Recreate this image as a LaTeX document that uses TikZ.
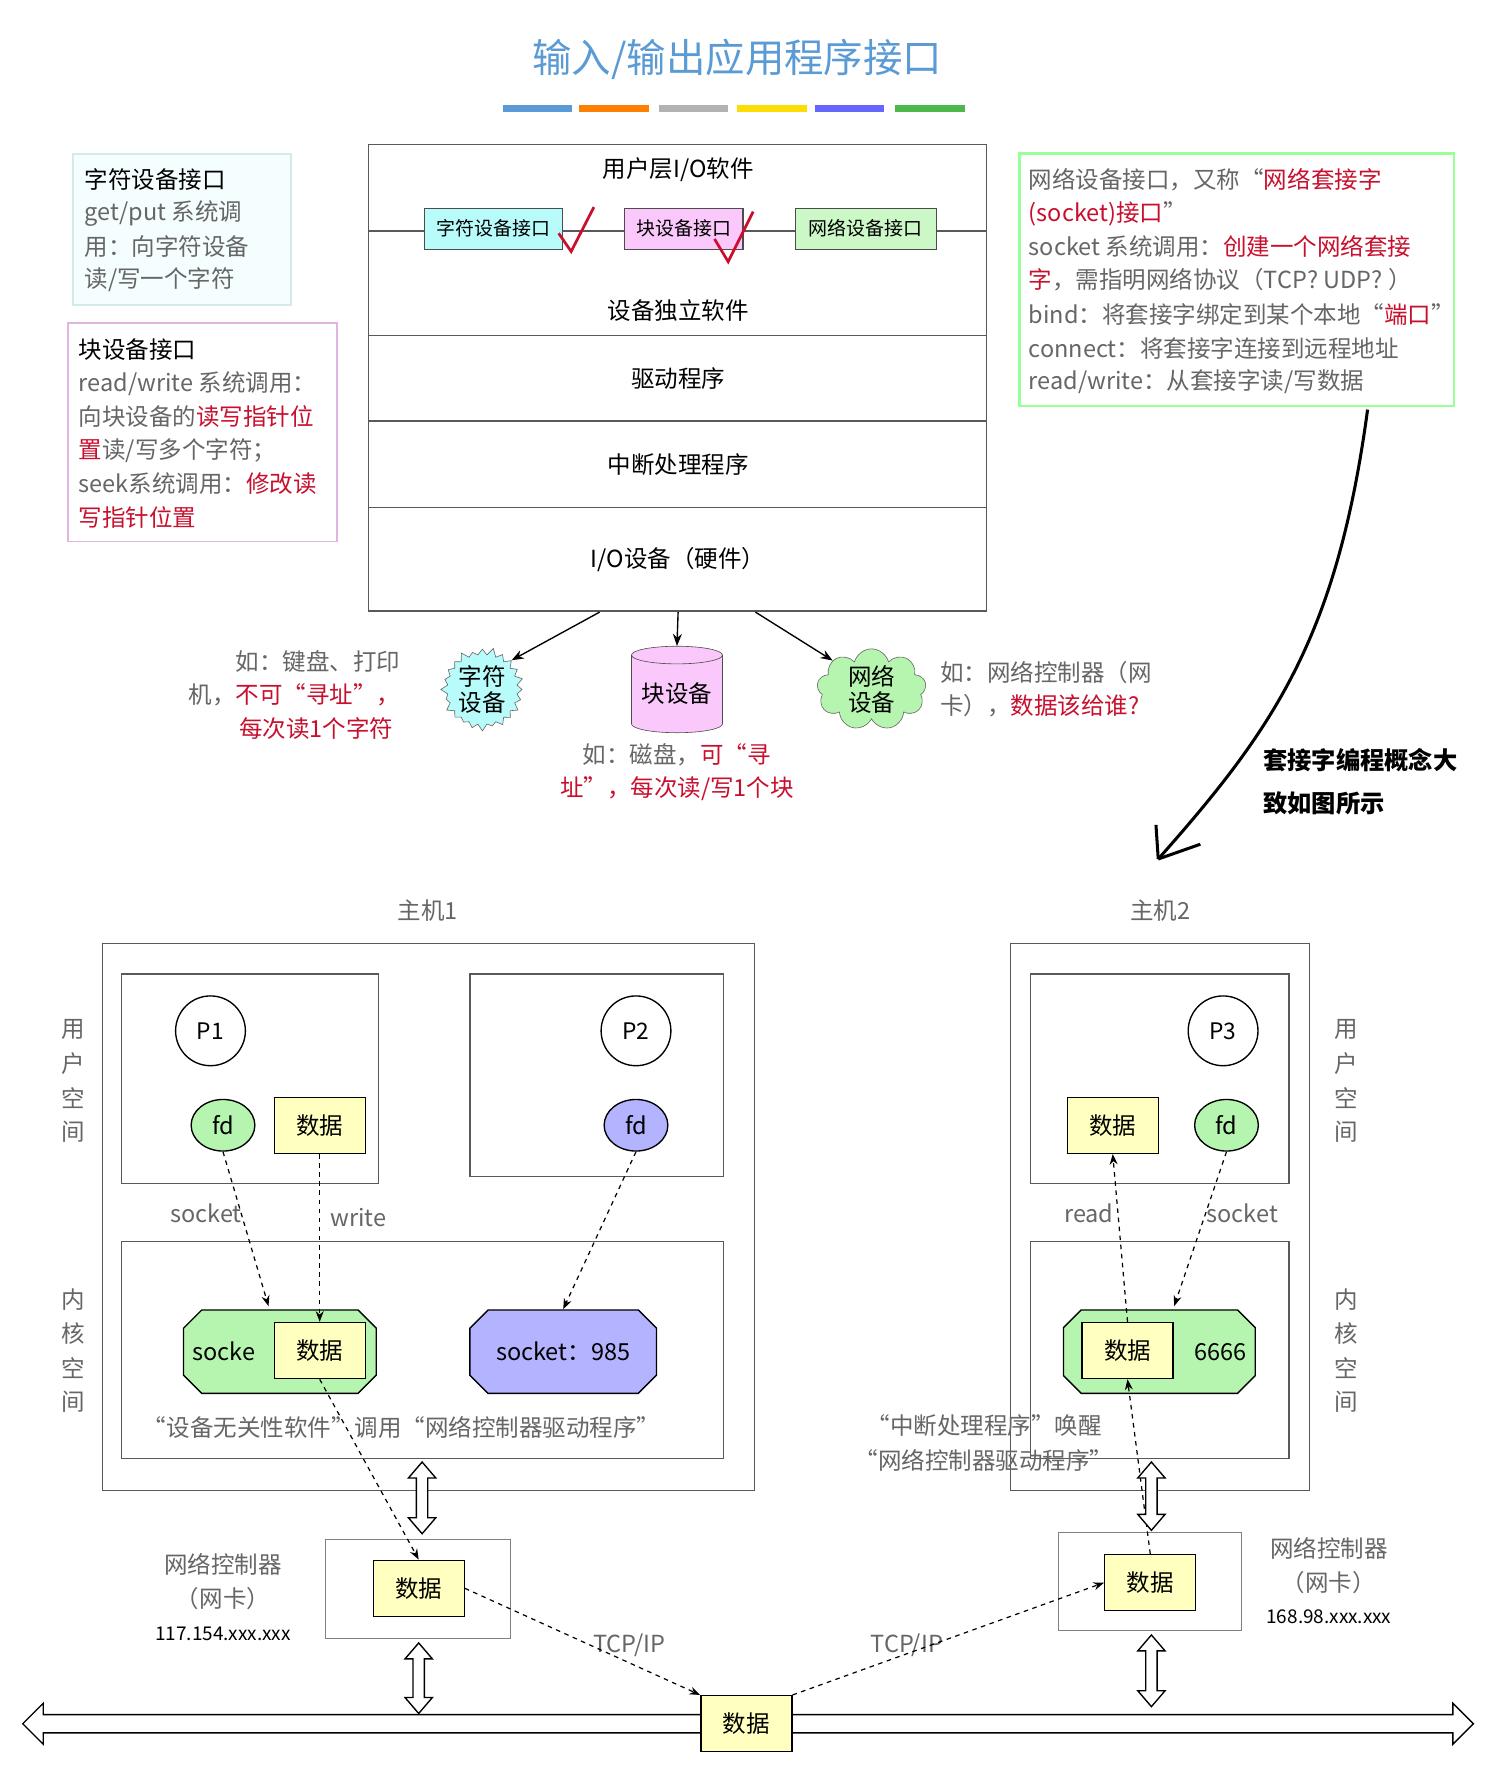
\documentclass[tikz,border=0pt]{standalone}
\usepackage{fontspec}
\setmainfont{Noto Sans CJK SC}
\usetikzlibrary{shapes.geometric,shapes.symbols,shapes.misc,arrows.meta}
\definecolor{gr}{HTML}{666666}
\definecolor{rd}{HTML}{C8102E}
\definecolor{ttl}{HTML}{5B9BD5}
\definecolor{yel}{HTML}{FFFFC0}
\definecolor{grn}{HTML}{B6F5B0}
\definecolor{pur}{HTML}{B3B3FF}
\definecolor{cy}{HTML}{B8FBFB}
\definecolor{pk}{HTML}{FBC8FB}
\tikzset{
 t/.style={font=\fontsize{15.5}{17}\selectfont,inner sep=0pt},
 tl/.style={t,anchor=west},
 box/.style={draw=black!65,line width=0.8pt},
 dat/.style={draw=black,line width=0.9pt,fill=yel,minimum width=60pt,minimum height=37pt,font=\fontsize{15.5}{17}\selectfont,inner sep=0pt},
 fd/.style={ellipse,draw=black,line width=0.9pt,minimum width=42pt,minimum height=34pt,font=\fontsize{15.5}{17}\selectfont,inner sep=0pt},
 pc/.style={circle,draw=black,line width=0.9pt,minimum size=46pt,font=\fontsize{15}{17}\selectfont,inner sep=0pt},
 sock/.style={chamfered rectangle,chamfered rectangle xsep=6pt,chamfered rectangle ysep=6pt,draw=black,line width=0.9pt,minimum height=55pt,font=\fontsize{15.5}{17}\selectfont,inner sep=0pt},
 da/.style={dashed,line width=0.8pt,-{Stealth[length=7pt]}},
 sb/.style={draw=black!70,line width=0.8pt,font=\fontsize{12.5}{14}\selectfont,minimum height=27pt,inner sep=2pt},
 ar/.style={line width=0.9pt,-{Stealth[length=8pt]}},
}
\newcommand\vdar[3]{\draw[line width=0.9pt,fill=white] (#1-5,#2+14)--(#1-12,#2+14)--(#1,#2)--(#1+12,#2+14)--(#1+5,#2+14)--(#1+5,#3-14)--(#1+12,#3-14)--(#1,#3)--(#1-12,#3-14)--(#1-5,#3-14)--cycle;}
\begin{document}
\begin{tikzpicture}[x=0.75pt,y=-0.75pt]
\useasboundingbox[fill=white] (0,0) rectangle (1320,1568);
% title
\node[font=\fontsize{26}{28}\selectfont,text=ttl] (title) at (648,52) {输入/输出应用程序接口};
\foreach \a/\c in {442/ttl,509/orange,579/gray!60,648/yellow!80!orange,716/blue!60,787/green!60!black!70}
  \fill[\c] (\a,92) rectangle (\a+61,98);
% main stack
\draw[box] (324,127) rectangle (867,537);
\draw[box] (324,203)--(867,203);
\foreach \y in {295,370,446} \draw[box] (324,\y)--(867,\y);
\node[t] (ul) at (596,149) {用户层I/O软件};
\node[sb,fill=cy,minimum width=91pt] (ci) at (434,201) {字符设备接口};
\node[sb,fill=pk,minimum width=78pt] (bi) at (601,201) {块设备接口};
\node[sb,fill=grn!70,minimum width=93pt] (ni) at (761,201) {网络设备接口};
\draw[rd,line width=1.8pt] (491,205)--(502,221)--(522,182);
\draw[rd,line width=1.8pt] (628,210)--(640,230)--(662,186);
\node[t] (dis) at (596,273) {设备独立软件};
\node[t] (drv) at (596,333) {驱动程序};
\node[t] (irq) at (596,408) {中断处理程序};
\node[t] (hw) at (596,492) {I/O设备（硬件）};
% left info boxes
\draw[cy!80!black!40,line width=1.2pt,fill=cy!15] (64,135) rectangle (256,268);
\node[tl] (c1) at (74,158) {字符设备接口};
\node[tl,text=gr] (c2) at (74,188) {get/put 系统调};
\node[tl,text=gr] (c3) at (74,217) {用：向字符设备};
\node[tl,text=gr] (c4) at (74,246) {读/写一个字符};
\draw[pk!90!black,line width=1.2pt] (60,284) rectangle (296,476);
\node[tl] (b1) at (69,307) {块设备接口};
\node[tl,text=gr] (b2) at (69,337) {read/write 系统调用：};
\node[tl] (b3) at (69,366) {\textcolor{gr}{向块设备的}\textcolor{rd}{读写指针位}};
\node[tl] (b4) at (69,396) {\textcolor{rd}{置}\textcolor{gr}{读/写多个字符；}};
\node[tl] (b5) at (69,425) {\textcolor{gr}{seek系统调用：}\textcolor{rd}{修改读}};
\node[tl,text=rd] (b6) at (69,455) {写指针位置};
% right info box
\draw[green!40,line width=1.5pt] (896,135) rectangle (1278,357);
\node[tl] (n1) at (904,158) {\textcolor{gr}{网络设备接口，又称“}\textcolor{rd}{网络套接字}};
\node[tl] (n2) at (904,188) {\textcolor{rd}{(socket)接口}\textcolor{gr}{”}};
\node[tl] (n3) at (904,217) {\textcolor{gr}{socket 系统调用：}\textcolor{rd}{创建一个网络套接}};
\node[tl] (n4) at (904,246) {\textcolor{rd}{字}\textcolor{gr}{，需指明网络协议（TCP? UDP? ）}};
\node[tl] (n5) at (904,276) {\textcolor{gr}{bind：将套接字绑定到某个本地“}\textcolor{rd}{端口}\textcolor{gr}{”}};
\node[tl,text=gr] (n6) at (904,306) {connect：将套接字连接到远程地址};
\node[tl,text=gr] (n7) at (904,335) {read/write：从套接字读/写数据};
% devices
\node[starburst,starburst points=24,starburst point height=5pt,draw=black!60,fill=cy,minimum size=56pt,t,align=center] (cd) at (424,606) {字符\\设备};
\node[cylinder,shape border rotate=90,aspect=0.25,draw=black!70,fill=pk,minimum width=60pt,minimum height=57pt,t] (bd) at (595,610) {块设备};
\node[cloud,cloud puffs=9,draw=black!60,fill=grn,minimum width=72pt,minimum height=52pt,t,align=center] (nd) at (766,606) {网络\\设备};
\coordinate (s1) at (527,538); \coordinate (s2) at (596,538); \coordinate (s3) at (664,538);
\draw[ar] (s1)--(cd.north east);
\draw[ar] (s2)--(bd.north);
\draw[ar] (s3)--(nd.north west);
\node[t,anchor=east,text=gr] (e1) at (352,581) {如：键盘、打印};
\node[t,anchor=east] (e2) at (352,611) {\textcolor{gr}{机，}\textcolor{rd}{不可“寻址”，}};
\node[t,text=rd] (e3) at (278,640) {每次读1个字符};
\node[t] (e4) at (595,663) {\textcolor{gr}{如：磁盘，}\textcolor{rd}{可“寻}};
\node[t,text=rd] (e5) at (595,693) {址”，每次读/写1个块};
\node[tl,text=gr] (e6) at (826,591) {如：网络控制器（网};
\node[tl] (e7) at (826,620) {\textcolor{gr}{卡），}\textcolor{rd}{数据该给谁?}};
% hand arrow
\coordinate (h1) at (1202,360); \coordinate (h2) at (1018,755);
\draw[line width=2pt] (h1) .. controls (1175,560) and (1120,640) .. (h2);
\draw[line width=2pt] (1018,755)--(1016,725);
\draw[line width=2pt] (1018,755)--(1055,742);
\node[tl,font=\fontsize{16}{17}\selectfont\bfseries] (q1) at (1110,668) {套接字编程概念大};
\node[tl,font=\fontsize{16}{17}\selectfont\bfseries] (q2) at (1110,706) {致如图所示};
% hosts
\node[t,text=gr] (h1l) at (376,800) {主机1};
\node[t,text=gr] (h2l) at (1020,800) {主机2};
\draw[box] (90,829) rectangle (663,1310);
\draw[box] (107,856) rectangle (333,1040);
\draw[box] (413,856) rectangle (636,1034);
\draw[box] (107,1091) rectangle (636,1282);
\draw[box] (888,829) rectangle (1151,1310);
\draw[box] (906,856) rectangle (1133,1040);
\draw[box] (906,1091) rectangle (1133,1282);
\foreach \x in {64,1183}{
 \foreach \ch [count=\i] in {用,户,空,间} \node[t,text=gr] at (\x,875+30*\i) {\ch};
 \foreach \ch [count=\i] in {内,核,空,间} \node[t,text=gr] at (\x,1112+30*\i) {\ch};
}
% host1 user
\node[pc] (p1) at (185,906) {P1};
\node[fd,fill=grn] (fd1) at (196,989) {fd};
\node[dat] (d1) at (281,989) {数据};
\node[pc] (p2) at (559,906) {P2};
\node[fd,fill=pur] (fd2) at (559,989) {fd};
% host1 kernel
\node[sock,fill=grn,minimum width=122pt,text width=115pt,align=left] (k1) at (246,1188) {socke};
\node[dat] (kd1) at (281,1187) {数据};
\node[sock,fill=pur,minimum width=123pt] (k2) at (495,1188) {socket：985};
\node[t,text=gr] (sl) at (181,1066) {socket};
\node[t,text=gr] (wl) at (315,1070) {write};
\draw[da] (fd1.south)--(236,1148);
\draw[da] (d1.south)--(kd1.north);
\draw[da] (fd2.south)--(k2.north);
\node[t,text=gr] (k1t) at (353,1255) {“设备无关性软件”调用“网络控制器驱动程序”};
% nic1
\draw[box,black!50] (286,1353) rectangle (449,1440);
\node[dat] (nd1) at (368,1396) {数据};
\draw[da] (kd1.south)--(nd1.north);
\vdar{371}{1285}{1348}
\vdar{368}{1444}{1506}
\node[t,text=gr] (nl1) at (196,1375) {网络控制器};
\node[t,text=gr] (nl2) at (196,1405) {（网卡）};
\node[t,font=\fontsize{12.5}{14}\selectfont] (ip1) at (196,1436) {117.154.xxx.xxx};
% bus
\draw[line width=0.9pt,fill=white] (20,1515)--(38,1497)--(38,1507)--(1277,1507)--(1277,1497)--(1295,1515)--(1277,1533)--(1277,1523)--(38,1523)--(38,1533)--cycle;
\node[dat] (bd2) at (656,1515) {数据};
\node[t,text=gr] (tc1) at (553,1446) {TCP/IP};
\node[t,text=gr] (tc2) at (797,1446) {TCP/IP};
% host2
\node[pc] (p3) at (1075,906) {P3};
\node[dat] (d3) at (978,989) {数据};
\node[fd,fill=grn] (fd3) at (1078,989) {fd};
\node[sock,fill=grn,minimum width=122pt,text width=115pt,align=right] (k3) at (1019,1188) {6666};
\node[dat] (kd3) at (991,1187) {数据};
\node[t,text=gr] (rl) at (957,1066) {read};
\node[t,text=gr] (sl3) at (1092,1066) {socket};
\draw[da] (fd3.south)--(1032,1148);
\draw[da] (kd3.north)--(d3.south);
\node[t,text=gr,align=center] (k3t) at (865,1268) {“中断处理程序”唤醒\\[6pt]“网络控制器驱动程序”};
\draw[box,black!50] (930,1347) rectangle (1091,1433);
\node[dat] (nd2b) at (1011,1391) {数据};
\draw[da] (nd2b.north)--(kd3.south);
\vdar{1012}{1285}{1345}
\vdar{1012}{1437}{1500}
\node[t,text=gr] (nl3) at (1168,1361) {网络控制器};
\node[t,text=gr] (nl4) at (1168,1391) {（网卡）};
\node[t,font=\fontsize{12.5}{14}\selectfont] (ip2) at (1168,1421) {168.98.xxx.xxx};
\draw[da] (nd1.east)--(bd2.north west);
\draw[da] (bd2.north east)--(nd2b.west);
\end{tikzpicture}
\end{document}
